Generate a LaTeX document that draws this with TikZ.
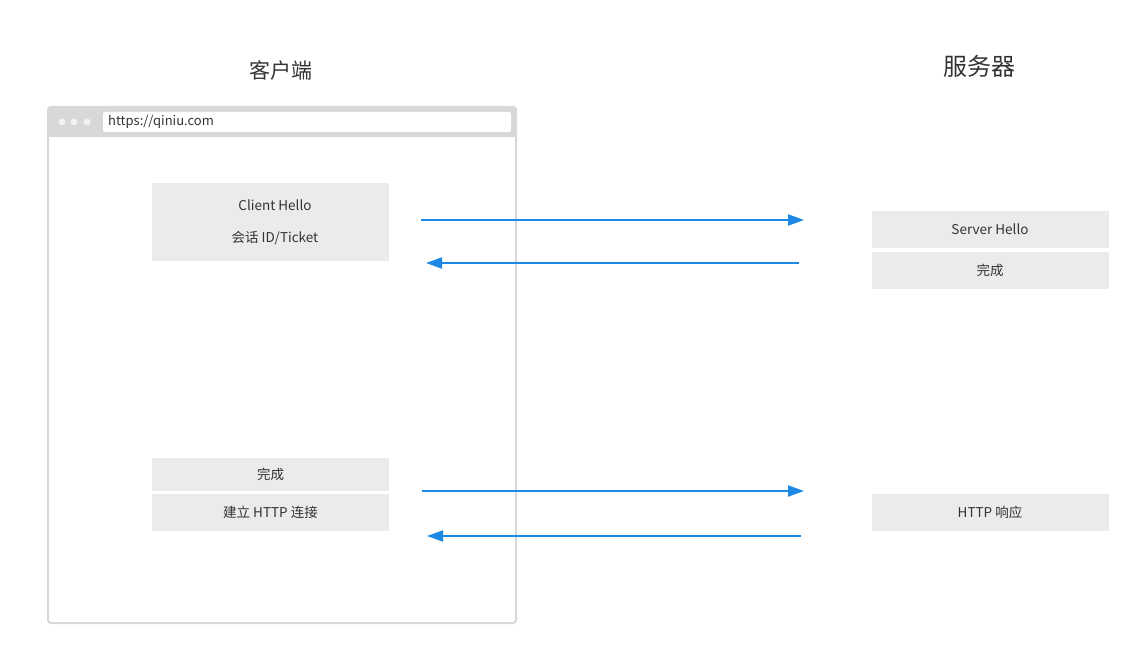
\documentclass[tikz,border=0pt]{standalone}
\usepackage{fontspec}
\setmainfont{Noto Sans CJK SC}
\usetikzlibrary{arrows.meta}
\definecolor{boxgray}{HTML}{EBEBEB}
\definecolor{framegray}{HTML}{D8D8D8}
\definecolor{dotgray}{HTML}{F2F2F2}
\definecolor{msgblue}{HTML}{1E88E5}
\definecolor{textgray}{HTML}{333333}
\tikzset{>=stealth}
\tikzset{
  msgbox/.style={fill=boxgray, minimum width=237pt, inner sep=0pt,
    text=textgray, font=\fontsize{13.5}{16}\selectfont},
  msg/.style={draw=msgblue, line width=2pt, -{Triangle[length=16pt,width=11pt]}},
  side/.style={font=\fontsize{21}{24}\selectfont, text=textgray}
}

\begin{document}
\begin{tikzpicture}[x=1pt,y=-1pt]
  \useasboundingbox (0,0) rectangle (1142,655);

  %% titles
  \node[side] (client) at (281,70) {客户端};
  \node[side, font=\fontsize{24}{28}\selectfont] (server) at (979,66) {服务器};

  %% browser window
  \begin{scope}
    \draw[framegray, line width=2pt, fill=white, rounded corners=3pt]
      (48,107) rectangle (516,623);
    \fill[framegray] (48,137) {[rounded corners=3pt] -- (48,107) -- (516,107)}
      -- (516,137) -- cycle;
    \fill[white, rounded corners=2pt] (103,112) rectangle (511,132);
    \node[anchor=west, inner sep=0pt, text=textgray,
      font=\fontsize{13}{16}\selectfont] (url) at (108,122) {https://qiniu.com};
    \foreach \x in {62,74,87}
      \fill[dotgray] (\x,122) circle (3.5);
  \end{scope}

  %% client messages
  \node[msgbox, minimum height=78pt, align=center,
    font=\fontsize{13.5}{32}\selectfont] (hello) at (270.5,222)
    {\hspace*{9pt}Client Hello\\\hspace*{9pt}会话 ID/Ticket};
  \node[msgbox, minimum height=33pt] (cdone) at (270.5,474.5) {完成};
  \node[msgbox, minimum height=37pt] (chttp) at (270.5,512.5) {建立 HTTP 连接};

  %% server messages
  \node[msgbox, minimum height=37pt] (shello) at (990,229.5) {Server Hello};
  \node[msgbox, minimum height=37pt] (sdone) at (990,270.5) {完成};
  \node[msgbox, minimum height=37pt] (sresp) at (990,512.5) {HTTP 响应};

  %% arrows
  \coordinate (h1) at (421,220);
  \coordinate (h2) at (804,220);
  \coordinate (d1) at (799,263);
  \coordinate (d2) at (426,263);
  \coordinate (f1) at (422,491);
  \coordinate (f2) at (804,491);
  \coordinate (r1) at (801,536);
  \coordinate (r2) at (427,536);
  \draw[msg] (h1) -- (h2);
  \draw[msg] (d1) -- (d2);
  \draw[msg] (f1) -- (f2);
  \draw[msg] (r1) -- (r2);
  %\draw[step=50,gray,very thin] (0,0) grid (1142,655);
\end{tikzpicture}
\end{document}
